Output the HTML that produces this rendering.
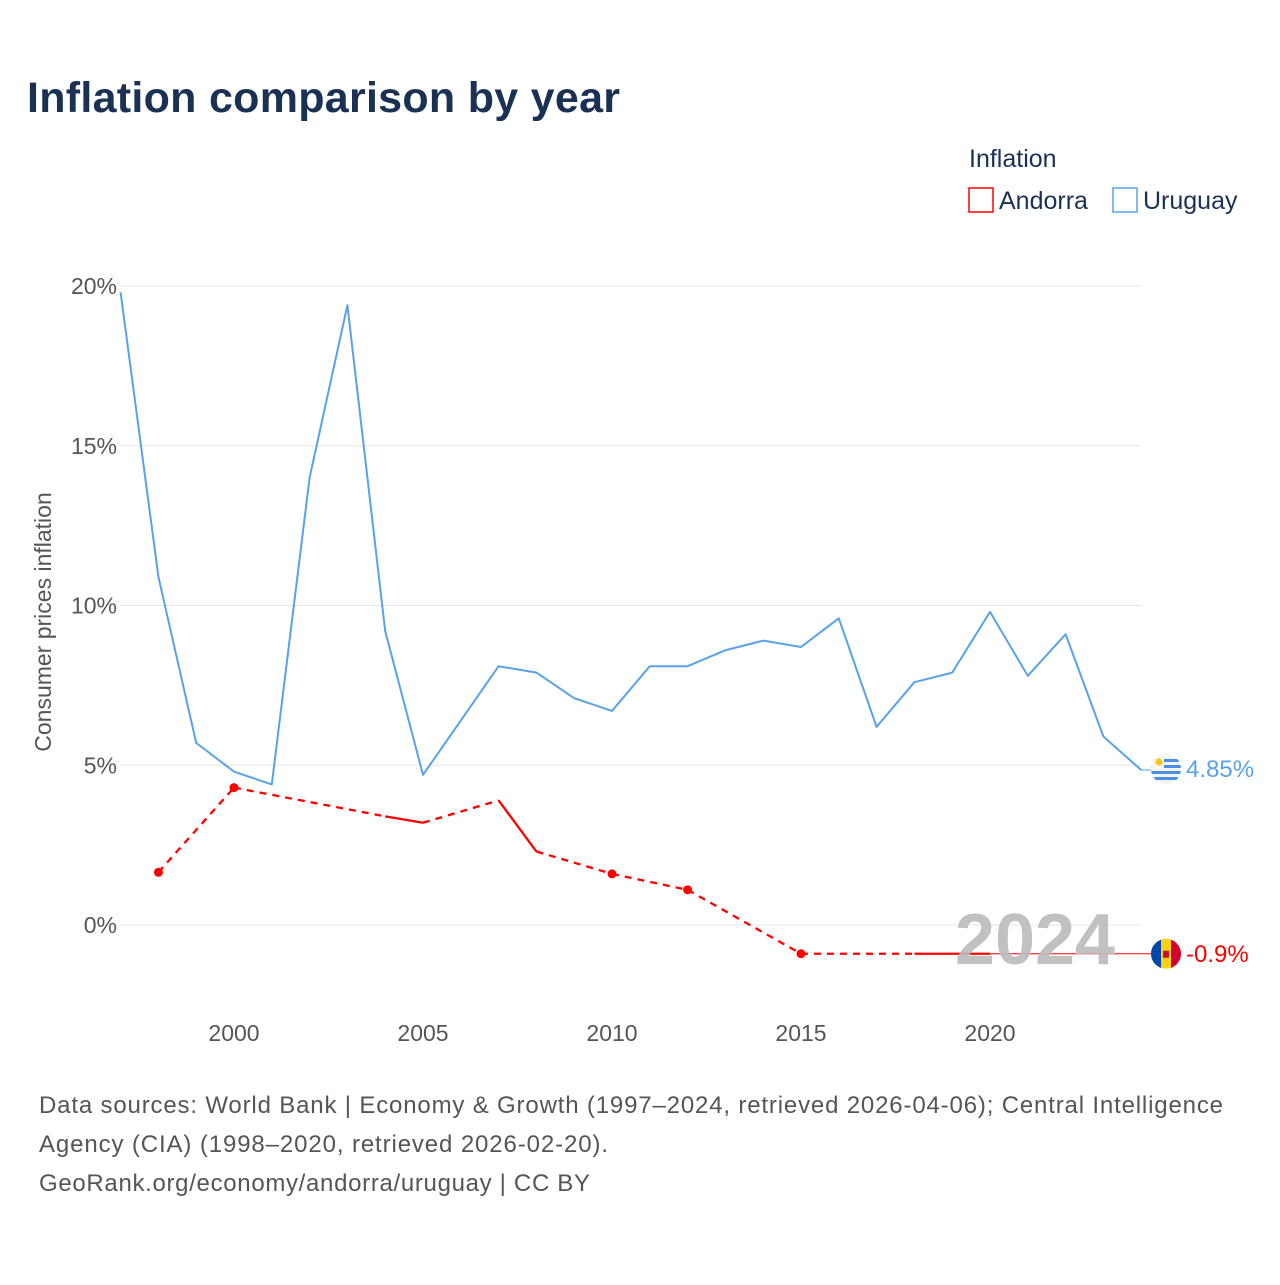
<!DOCTYPE html>
<html><head><meta charset="utf-8"><style>
body{margin:0;background:#fff;font-family:"Liberation Sans",sans-serif}
</style></head><body>
<svg id="c" width="1280" height="1280" xmlns="http://www.w3.org/2000/svg">
<defs><clipPath id="cu"><circle cx="1166" cy="769" r="15"/></clipPath><clipPath id="ca"><circle cx="1166" cy="953.8" r="15"/></clipPath></defs>
<text x="27" y="112" font-size="43" font-weight="bold" fill="#1b3154" textLength="593">Inflation comparison by year</text>
<text x="969" y="167" font-size="25" fill="#1b3154">Inflation</text>
<g><rect x="969" y="188" width="24" height="24" fill="none" stroke="#f00" stroke-width="1.5"/><text x="999" y="209" font-size="25" fill="#1b3154">Andorra</text></g>
<g><rect x="1113" y="188" width="24" height="24" fill="none" stroke="#5aa2e8" stroke-width="1.5"/><text x="1143" y="209" font-size="25" fill="#1b3154">Uruguay</text></g>
<g id="grid"></g><g id="plot"></g>
<text x="1035" y="964" font-size="72" font-weight="bold" fill="#bbb" text-anchor="middle" opacity="0.9">2024</text>
<g id="ends"></g>
<text transform="translate(51,622) rotate(-90)" font-size="23" fill="#555" text-anchor="middle">Consumer prices inflation</text>
<g font-size="24" fill="#555">
<text x="39" y="1113" textLength="1184">Data sources: World Bank | Economy &amp; Growth (1997–2024, retrieved 2026-04-06); Central Intelligence</text>
<text x="39" y="1152" textLength="569">Agency (CIA) (1998–2020, retrieved 2026-02-20).</text>
<text x="39" y="1191" textLength="551">GeoRank.org/economy/andorra/uruguay | CC BY</text>
</g>
</svg>
<script>
const yTicks=[0,5,10,15,20];
const xTicks=[2000,2005,2010,2015,2020];
const uruYears=[1997,1998,1999,2000,2001,2002,2003,2004,2005,2006,2007,2008,2009,2010,2011,2012,2013,2014,2015,2016,2017,2018,2019,2020,2021,2022,2023,2024];
const uruVals=[19.8,10.9,5.7,4.8,4.4,14.0,19.4,9.2,4.7,6.4,8.1,7.9,7.1,6.7,8.1,8.1,8.6,8.9,8.7,9.6,6.2,7.6,7.9,9.8,7.8,9.1,5.9,4.85];
const andYears=[1998,2000,2004,2005,2007,2008,2010,2012,2015,2018,2019,2020];
const andVals=[1.65,4.3,3.4,3.2,3.9,2.3,1.6,1.1,-0.9,-0.9,-0.9,-0.9];
const NS="http://www.w3.org/2000/svg";
const X=y=>120.6+(y-1997)*37.8;
const Y=v=>925-v*31.95;
function mk(t,a,p){const e=document.createElementNS(NS,t);for(const k in a)e.setAttribute(k,a[k]);p.appendChild(e);return e;}
const grid=document.getElementById('grid'),plot=document.getElementById('plot'),ends=document.getElementById('ends');
yTicks.forEach(v=>{
 const l=mk('line',{x1:120,x2:1141,y1:Y(v),y2:Y(v),stroke:'#e6e6e6','stroke-width':1},grid);
 
 
 const t=mk('text',{x:117,y:Y(v)+8,'font-size':23,fill:'#555','text-anchor':'end'},grid);t.textContent=v+'%';
 
 
});
xTicks.forEach(y=>{
 const t=mk('text',{x:X(y),y:1041,'font-size':23,fill:'#555','text-anchor':'middle'},grid);t.textContent=y;
 
 
});
const up=mk('polyline',{points:uruYears.map((y,i)=>X(y)+','+Y(uruVals[i])).join(' '),fill:'none',stroke:'#5aa2e8','stroke-width':2,'stroke-linejoin':'round'},plot);


for(let i=0;i<andYears.length-1;i++){
 const solid=andYears[i+1]-andYears[i]===1;
 const s=mk('line',{x1:X(andYears[i]),y1:Y(andVals[i]),x2:X(andYears[i+1]),y2:Y(andVals[i+1]),stroke:'#f00','stroke-width':2.3},plot);
 if(!solid)s.setAttribute('stroke-dasharray','7,6');
 
 
}
andYears.forEach((y,i)=>{
 const hasN=andYears.includes(y-1)||andYears.includes(y+1);
 if(!hasN){const d=mk('circle',{cx:X(y),cy:Y(andVals[i]),r:4.5,fill:'#f00'},plot);
 
 }
});
const lastA=andVals[andVals.length-1],lastU=uruVals[uruVals.length-1];
const pl=mk('line',{x1:X(andYears[andYears.length-1]),y1:Y(lastA),x2:1155,y2:Y(lastA),stroke:'#f00','stroke-width':1},plot);


const ul=mk('line',{x1:X(2024),y1:Y(lastU),x2:1155,y2:Y(lastU),stroke:'#5aa2e8','stroke-width':1},plot);


const fu=mk('g',{'clip-path':'url(#cu)'},ends);


const cu=769;
mk('rect',{x:1150,y:cu-15,width:32,height:30,fill:'#f4f4f4'},fu);
[-10,-4,2,8].forEach(o=>mk('rect',{x:1150,y:cu+o,width:32,height:3,fill:'#4a90e2'},fu));
mk('rect',{x:1150,y:cu-15,width:14,height:14,fill:'#f4f4f4'},fu);
mk('circle',{cx:1159,cy:cu-7,r:3.5,fill:'#f5c518'},fu);
const fa=mk('g',{'clip-path':'url(#ca)'},ends);


const ca=Y(lastA);
mk('rect',{x:1150,y:ca-15,width:32,height:30,fill:'#fcd116'},fa);
mk('rect',{x:1150,y:ca-15,width:11,height:30,fill:'#0047ab'},fa);
mk('rect',{x:1171,y:ca-15,width:11,height:30,fill:'#d50032'},fa);
mk('rect',{x:1163,y:ca-3,width:6,height:7,fill:'#c8102e'},fa);
const tu=mk('text',{x:1186,y:cu+8,'font-size':24,fill:'#5aa2e8'},ends);tu.textContent=lastU+'%';


const ta=mk('text',{x:1186,y:ca+8,'font-size':24,fill:'#f00'},ends);ta.textContent=lastA+'%';


</script>
</body></html>
